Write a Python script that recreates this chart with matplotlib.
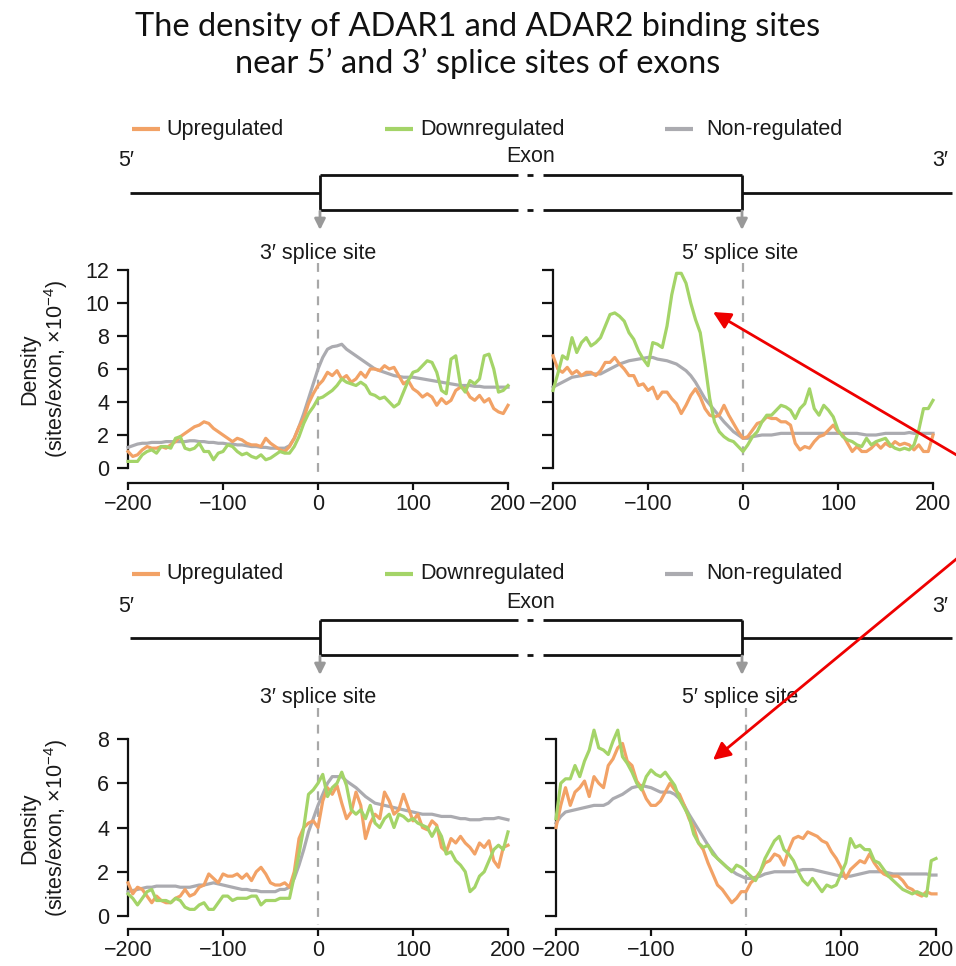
import numpy as np
import matplotlib
matplotlib.use("Agg")
import matplotlib.pyplot as plt
from matplotlib.lines import Line2D
import matplotlib.transforms as mtransforms

plt.rcParams['font.family'] = ['Liberation Sans', 'DejaVu Sans']
plt.rcParams['mathtext.default'] = 'regular'

# ---------------- data ----------------
positions = np.arange(-200, 201, 5)
series_names = ["Upregulated", "Downregulated", "Non-regulated"]
series_colors = ["#F2A266", "#A4D468", "#ABABB0"]
x_ticks = [-200, -100, 0, 100, 200]
splice_labels = ["3\u2032 splice site", "5\u2032 splice site"]

# ADAR1, 3' splice site
adar1_3ss_up = [1.0, 0.7, 0.8, 1.1, 1.3, 1.2, 1.2, 1.3, 1.2,
                1.4, 1.6, 1.9, 2.1, 2.3, 2.5, 2.6, 2.8, 2.7,
                2.4, 2.2, 2.0, 1.8, 1.6, 1.8, 1.7, 1.5, 1.4,
                1.4, 1.3, 1.8, 1.5, 1.3, 1.1, 1.0, 1.3, 1.8,
                2.5, 3.0, 3.9, 4.5, 5.0, 5.3, 5.8, 5.6, 5.9,
                5.4, 5.6, 5.2, 5.4, 5.8, 5.5, 6.0, 6.0, 5.9,
                6.2, 6.0, 6.1, 5.6, 5.1, 5.3, 4.8, 4.6, 4.3,
                4.5, 4.3, 3.8, 4.2, 3.9, 4.1, 4.7, 4.9, 4.8,
                4.3, 4.1, 4.4, 4.0, 4.2, 3.6, 3.4, 3.3, 3.8]
adar1_3ss_down = [0.4, 0.4, 0.4, 0.8, 1.0, 1.1, 0.9, 1.3, 1.3,
                  1.2, 1.8, 1.9, 1.2, 1.1, 1.2, 1.5, 1.0, 1.0,
                  0.5, 0.9, 1.0, 1.4, 1.3, 1.0, 0.8, 0.9, 0.7,
                  0.6, 0.8, 0.5, 0.6, 0.8, 1.0, 0.9, 0.9, 1.3,
                  1.9, 2.7, 3.3, 3.7, 4.2, 4.3, 4.5, 4.7, 5.0,
                  5.4, 5.2, 5.1, 5.0, 5.2, 5.0, 4.5, 4.4, 4.2,
                  4.3, 4.0, 3.7, 3.9, 4.6, 5.3, 5.8, 5.9, 6.2,
                  6.5, 6.4, 5.8, 4.7, 4.5, 6.6, 6.8, 5.0, 4.6,
                  5.3, 5.1, 5.4, 6.8, 6.9, 6.0, 4.6, 4.7, 5.0]
adar1_3ss_non = [1.25, 1.35, 1.45, 1.5, 1.5, 1.55, 1.55, 1.55, 1.6,
                 1.6, 1.6, 1.6, 1.6, 1.65, 1.65, 1.6, 1.6, 1.55,
                 1.55, 1.5, 1.5, 1.45, 1.45, 1.4, 1.4, 1.35, 1.3,
                 1.3, 1.25, 1.25, 1.2, 1.2, 1.2, 1.2, 1.35, 1.8,
                 2.5, 3.3, 4.2, 5.1, 6.0, 6.7, 7.2, 7.35, 7.4,
                 7.5, 7.2, 7.0, 6.8, 6.6, 6.4, 6.2, 6.0, 5.9,
                 5.8, 5.7, 5.6, 5.55, 5.5, 5.5, 5.5, 5.45, 5.4,
                 5.35, 5.3, 5.25, 5.2, 5.15, 5.1, 5.05, 5.0, 5.0,
                 5.0, 4.95, 4.95, 4.9, 4.9, 4.9, 4.9, 4.9, 4.9]

# ADAR1, 5' splice site
adar1_5ss_up = [6.8, 6.0, 5.8, 6.1, 5.7, 5.9, 5.6, 5.8, 5.8,
                5.6, 5.9, 6.4, 6.4, 6.7, 6.3, 6.0, 5.6, 5.6,
                5.0, 5.1, 4.7, 4.9, 4.2, 4.6, 4.6, 4.2, 3.9,
                3.3, 3.8, 4.4, 4.8, 4.3, 3.6, 3.2, 3.1, 3.2,
                3.8, 3.2, 2.7, 2.2, 1.8, 1.9, 2.3, 2.7, 2.8,
                3.1, 3.0, 3.0, 2.8, 2.8, 2.6, 1.5, 1.1, 1.3,
                1.2, 1.6, 1.9, 2.0, 2.3, 2.6, 2.2, 2.0, 1.5,
                1.0, 1.3, 1.0, 1.0, 1.2, 1.5, 1.2, 1.5, 1.3,
                1.6, 1.4, 1.5, 1.4, 1.1, 1.4, 1.0, 1.0, 2.0]
adar1_5ss_down = [4.7, 5.7, 6.8, 6.6, 7.9, 7.0, 7.6, 7.9, 7.4,
                  7.6, 7.9, 8.6, 9.3, 9.4, 9.2, 8.9, 8.2, 7.8,
                  7.1, 6.6, 6.2, 7.6, 7.5, 7.3, 8.6, 10.5, 11.8,
                  11.8, 11.2, 10.0, 9.0, 8.2, 6.3, 4.2, 2.8, 2.2,
                  1.9, 1.7, 1.6, 1.3, 1.0, 1.4, 1.9, 2.2, 2.8,
                  3.2, 3.2, 3.5, 3.8, 3.7, 3.5, 3.0, 3.6, 3.9,
                  4.8, 3.6, 3.2, 3.8, 3.5, 3.1, 2.3, 1.9, 1.7,
                  1.6, 1.4, 1.3, 1.8, 1.4, 1.6, 1.7, 1.8, 1.4,
                  1.2, 1.1, 1.2, 1.1, 1.4, 2.3, 3.6, 3.6, 4.1]
adar1_5ss_non = [4.9, 5.05, 5.2, 5.35, 5.5, 5.55, 5.6, 5.65, 5.7,
                 5.7, 5.7, 5.85, 6.0, 6.15, 6.3, 6.4, 6.5, 6.55,
                 6.6, 6.65, 6.7, 6.7, 6.6, 6.55, 6.5, 6.4, 6.3,
                 6.1, 5.9, 5.6, 5.2, 4.7, 4.2, 3.85, 3.5, 3.15,
                 2.8, 2.5, 2.2, 2.0, 1.8, 1.8, 1.9, 1.95, 2.0,
                 2.0, 2.0, 2.05, 2.1, 2.1, 2.1, 2.1, 2.1, 2.1,
                 2.1, 2.1, 2.1, 2.1, 2.1, 2.1, 2.1, 2.1, 2.1,
                 2.1, 2.1, 2.05, 2.0, 2.0, 2.0, 2.05, 2.1, 2.1,
                 2.1, 2.1, 2.1, 2.15, 2.1, 2.1, 2.1, 2.1, 2.1]

# ADAR2, 3' splice site
adar2_3ss_up = [1.5, 1.0, 1.3, 1.2, 0.9, 0.6, 0.9, 0.7, 0.6,
                0.6, 0.8, 0.9, 1.2, 0.9, 1.0, 1.3, 1.4, 1.9,
                1.7, 1.5, 1.9, 1.8, 1.8, 1.9, 1.7, 1.9, 1.6,
                2.0, 2.2, 1.9, 1.5, 1.4, 1.4, 1.5, 1.3, 2.0,
                3.5, 4.0, 4.2, 4.3, 4.0, 5.2, 5.8, 5.5, 5.9,
                5.1, 4.4, 4.7, 5.6, 5.0, 3.5, 4.2, 4.6, 4.4,
                5.6, 5.2, 4.6, 4.8, 5.5, 4.9, 4.3, 4.6, 4.0,
                3.9, 4.3, 4.1, 3.1, 2.9, 3.5, 3.3, 3.6, 3.3,
                3.1, 2.8, 3.3, 3.1, 3.4, 2.5, 2.2, 3.1, 3.2]
adar2_3ss_down = [1.0, 0.8, 0.5, 0.8, 1.1, 1.2, 0.7, 0.7, 0.7,
                  0.6, 0.8, 0.7, 0.4, 0.3, 0.3, 0.5, 0.6, 0.3,
                  0.3, 0.6, 0.9, 0.9, 0.7, 0.8, 0.8, 0.8, 0.9,
                  0.9, 0.5, 0.7, 0.7, 0.7, 0.8, 0.8, 0.8, 1.8,
                  2.8, 4.0, 5.5, 5.7, 6.0, 6.4, 5.4, 5.8, 6.0,
                  6.5, 5.9, 4.8, 4.6, 4.8, 4.4, 5.0, 4.2, 4.0,
                  4.4, 4.6, 4.0, 4.6, 4.5, 4.3, 4.4, 4.2, 4.1,
                  4.0, 3.6, 4.0, 3.6, 2.8, 2.9, 2.5, 2.3, 2.0,
                  1.1, 1.3, 1.8, 2.0, 2.5, 3.0, 3.2, 3.0, 3.8]
adar2_3ss_non = [1.1, 1.15, 1.2, 1.25, 1.3, 1.3, 1.35, 1.35, 1.35,
                 1.35, 1.35, 1.3, 1.3, 1.3, 1.35, 1.4, 1.4, 1.45,
                 1.5, 1.45, 1.4, 1.35, 1.3, 1.25, 1.2, 1.2, 1.15,
                 1.15, 1.1, 1.1, 1.1, 1.1, 1.2, 1.2, 1.3, 1.7,
                 2.3, 3.0, 3.8, 4.4, 5.0, 5.5, 6.0, 6.3, 6.3,
                 6.3, 6.1, 5.95, 5.8, 5.6, 5.4, 5.25, 5.1, 5.05,
                 5.0, 4.95, 4.9, 4.85, 4.8, 4.75, 4.7, 4.65, 4.6,
                 4.6, 4.6, 4.55, 4.5, 4.5, 4.5, 4.45, 4.4, 4.4,
                 4.35, 4.35, 4.35, 4.4, 4.4, 4.4, 4.45, 4.4, 4.35]

# ADAR2, 5' splice site
adar2_5ss_up = [4.0, 5.0, 5.8, 5.0, 5.6, 5.8, 6.1, 5.4, 6.3,
                6.0, 5.8, 6.8, 7.1, 7.6, 7.8, 7.0, 6.8, 6.1,
                5.8, 5.3, 5.0, 5.0, 5.2, 5.6, 6.0, 5.7, 5.5,
                5.0, 4.4, 4.0, 3.3, 3.0, 2.4, 1.9, 1.4, 1.2,
                0.9, 0.6, 0.8, 1.1, 1.1, 1.5, 1.7, 2.0, 2.4,
                2.5, 2.8, 2.7, 2.3, 3.0, 3.5, 3.6, 3.5, 3.8,
                3.7, 3.6, 3.4, 3.3, 2.9, 2.6, 2.2, 1.7, 2.1,
                2.3, 2.5, 2.4, 2.8, 2.4, 2.1, 1.9, 1.8, 1.8,
                1.8, 1.6, 1.3, 1.2, 1.0, 0.9, 1.1, 1.0, 1.0]
adar2_5ss_down = [4.4, 6.0, 6.2, 6.2, 6.8, 6.3, 7.0, 7.5, 8.4,
                  7.6, 7.5, 7.3, 7.9, 8.4, 7.2, 6.9, 6.5, 6.0,
                  5.7, 6.3, 6.6, 6.4, 6.3, 6.5, 6.2, 5.9, 5.3,
                  4.9, 4.5, 3.7, 3.3, 3.1, 3.2, 2.8, 2.6, 2.4,
                  2.2, 2.0, 2.3, 2.2, 2.0, 1.8, 1.6, 2.0, 2.6,
                  3.0, 3.4, 3.6, 3.0, 2.8, 2.5, 2.0, 1.6, 1.4,
                  1.7, 1.4, 1.1, 1.4, 1.3, 1.4, 1.9, 2.4, 3.5,
                  3.1, 3.2, 3.0, 3.0, 2.5, 2.4, 2.1, 1.8, 1.6,
                  1.4, 1.2, 1.1, 1.0, 1.1, 1.0, 0.9, 2.5, 2.6]
adar2_5ss_non = [4.2, 4.5, 4.7, 4.75, 4.8, 4.85, 4.9, 4.95, 5.0,
                 5.0, 5.0, 5.1, 5.3, 5.4, 5.5, 5.65, 5.8, 5.85,
                 5.9, 5.85, 5.8, 5.7, 5.6, 5.6, 5.6, 5.5, 5.3,
                 5.0, 4.6, 4.25, 3.9, 3.55, 3.2, 2.9, 2.6, 2.4,
                 2.2, 2.05, 1.9, 1.8, 1.7, 1.7, 1.75, 1.8, 1.9,
                 1.95, 2.0, 2.0, 2.0, 2.0, 2.0, 2.05, 2.1, 2.1,
                 2.1, 2.05, 2.0, 1.95, 1.9, 1.85, 1.8, 1.8, 1.8,
                 1.85, 1.9, 1.95, 2.0, 2.0, 2.0, 2.0, 1.95, 1.9,
                 1.9, 1.9, 1.9, 1.9, 1.9, 1.9, 1.9, 1.85, 1.85]

# ---------------- figure ----------------
W, H = 956, 966
fig = plt.figure(figsize=(W / 100, H / 100), dpi=100)

overlay = fig.add_axes([0, 0, 1, 1], zorder=10)
overlay.set_xlim(0, W)
overlay.set_ylim(H, 0)
overlay.axis('off')

FS = 15.5
TXT = '#1a1a1a'


def px_axes(x0, ytop, x1, ybot):
    return fig.add_axes([x0 / W, 1 - ybot / H, (x1 - x0) / W, (ybot - ytop) / H])


panels = [
    dict(rect=(128, 270, 508, 468), ymax=12, labels=True, offset=11, dash_top=263,
         data=[adar1_3ss_non, adar1_3ss_up, adar1_3ss_down]),
    dict(rect=(553, 270, 933, 468), ymax=12, labels=False, offset=11, dash_top=263,
         data=[adar1_5ss_non, adar1_5ss_up, adar1_5ss_down]),
    dict(rect=(128, 739, 508, 916), ymax=8, labels=True, offset=9, dash_top=708,
         data=[adar2_3ss_non, adar2_3ss_up, adar2_3ss_down]),
    dict(rect=(556, 739, 936, 916), ymax=8, labels=False, offset=9, dash_top=708,
         data=[adar2_5ss_non, adar2_5ss_up, adar2_5ss_down]),
]
draw_colors = [series_colors[2], series_colors[0], series_colors[1]]

axes = []
for p in panels:
    ax = px_axes(*p['rect'])
    ax.patch.set_alpha(0)
    ax.set_xlim(-200, 200)
    ax.set_ylim(0, p['ymax'])
    for s in ('top', 'right'):
        ax.spines[s].set_visible(False)
    for s in ('left', 'bottom'):
        ax.spines[s].set_linewidth(1.6)
        ax.spines[s].set_color('#111111')
    ax.spines['bottom'].set_position(('outward', p['offset']))
    ax.set_xticks(x_ticks)
    ax.set_yticks(np.arange(0, p['ymax'] + 1, 2))
    ax.tick_params(axis='x', length=5, width=1.6, labelsize=FS, pad=3, colors='#111111', labelcolor=TXT)
    ax.tick_params(axis='y', length=8, width=1.6, labelsize=FS, pad=5.5, colors='#111111', labelcolor=TXT)
    if not p['labels']:
        ax.tick_params(axis='y', labelleft=False)
    # dashed splice-site line
    trans = mtransforms.blended_transform_factory(ax.transData, overlay.transData)
    bottom_px = p['rect'][3] + p['offset']
    dash = Line2D([0, 0], [p['dash_top'], bottom_px], transform=trans, color='#A8A8A8',
                  lw=1.6, linestyle=(0, (4, 3.5)), clip_on=False, zorder=1)
    ax.add_artist(dash)
    for vals, c in zip(p['data'], draw_colors):
        ax.plot(positions, vals, color=c, lw=2.3, clip_on=False, zorder=3,
                solid_joinstyle='round')
    axes.append(ax)

# y labels
for yc in (369, 828):
    overlay.text(30, yc, "Density", rotation=90, ha='center', va='center', fontsize=FS, color=TXT)
    overlay.text(56, yc, "(sites/exon, \u00d710$^{\u22124}$)", rotation=90, ha='center', va='center',
                 fontsize=FS, color=TXT)

# exon diagrams and legends
for dy in (0, 445):
    leg_y = 129 + dy
    for name, c, x0, xt in zip(series_names, series_colors, [132, 385, 665], [166, 420, 706]):
        overlay.plot([x0, x0 + 28], [leg_y, leg_y], color=c, lw=3, solid_capstyle='butt')
        overlay.text(xt, leg_y, name, ha='left', va='center', fontsize=FS, color=TXT)
    overlay.text(118, 161 + dy, "5\u2032", ha='left', va='center', fontsize=FS, color=TXT)
    overlay.text(948, 161 + dy, "3\u2032", ha='right', va='center', fontsize=FS, color=TXT)
    overlay.text(531, 157 + dy, "Exon", ha='center', va='center', fontsize=FS, color=TXT)
    ly, top, bot = 193 + dy, 175 + dy, 210 + dy
    k = dict(color='#111111', lw=2, solid_capstyle='butt')
    overlay.plot([130, 320], [ly, ly], **k)
    overlay.plot([742, 952], [ly, ly], **k)
    overlay.plot([320, 320], [top, bot], **k)
    overlay.plot([742, 742], [top, bot], **k)
    for yy in (top, bot):
        overlay.plot([320, 518], [yy, yy], **k)
        overlay.plot([527, 533], [yy, yy], **k)
        overlay.plot([543, 742], [yy, yy], **k)
    for xa, lab in zip((320, 742), splice_labels):
        overlay.annotate('', xy=(xa, bot + 20), xytext=(xa, bot + 1),
                         arrowprops=dict(arrowstyle='-|>', color='#999999', lw=2,
                                         mutation_scale=16, shrinkA=0, shrinkB=0))
        overlay.text(xa - 2, 253 + dy, lab, ha='center', va='center', fontsize=FS, color=TXT)

# title
fig.text(0.5, 1 - 27 / H, "The density of ADAR1 and ADAR2 binding sites", ha='center', va='center',
         fontsize=23.4, family=['Lato', 'DejaVu Sans'], color='#111111')
fig.text(0.5, 1 - 63 / H, "near 5\u2019 and 3\u2019 splice sites of exons", ha='center', va='center',
         fontsize=23.4, family=['Lato', 'DejaVu Sans'], color='#111111')

# red annotation arrows
for tip, tail in (((713, 312), (960, 457)), ((713, 760), (960, 556))):
    overlay.annotate('', xy=tip, xytext=tail, annotation_clip=False,
                     arrowprops=dict(arrowstyle='-|>', color='#EE0000', lw=2,
                                     mutation_scale=26, shrinkA=0, shrinkB=0))

fig.savefig('out.png', dpi=100)
